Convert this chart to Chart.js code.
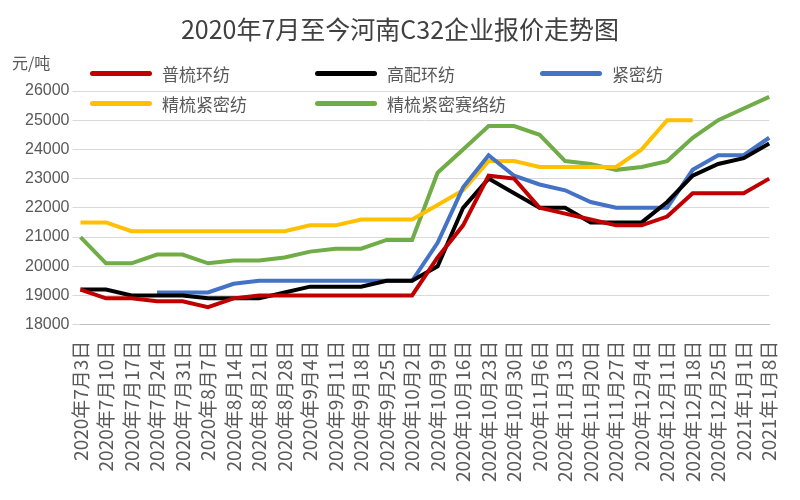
<!DOCTYPE html>
<html><head><meta charset="utf-8">
<script src="https://cdn.jsdelivr.net/npm/chart.js@4"></script>
<style>
body{margin:0;background:#fff;font-family:"Noto Sans CJK SC",sans-serif;}
#wrap{position:relative;width:800px;height:500px;}
.lg{position:absolute;font-size:17px;color:#595959;display:flex;align-items:center;white-space:nowrap}
.lg i{display:inline-block;width:62px;height:5px;margin-right:10px;border-radius:3px}
#title{position:absolute;top:10px;left:0;width:800px;text-align:center;font-size:25px;color:#404040}
#yt{position:absolute;top:50px;left:12px;font-size:16px;color:#595959}
</style></head><body>
<div id="wrap">
<canvas id="c" width="800" height="500"></canvas>
<div id="title">2020年7月至今河南C32企业报价走势图</div>
<div id="yt">元/吨</div>
<div class="lg" style="left:90px;top:61px"><i style="background:#c00000"></i>普梳环纺</div>
<div class="lg" style="left:315px;top:61px"><i style="background:#000"></i>高配环纺</div>
<div class="lg" style="left:540px;top:61px"><i style="background:#4472c4"></i>紧密纺</div>
<div class="lg" style="left:90px;top:91px"><i style="background:#ffc000"></i>精梳紧密纺</div>
<div class="lg" style="left:315px;top:91px"><i style="background:#70ad47"></i>精梳紧密赛络纺</div>
</div>
<script>
const categories=["2020年7月3日","2020年7月10日","2020年7月17日","2020年7月24日","2020年7月31日","2020年8月7日","2020年8月14日","2020年8月21日","2020年8月28日","2020年9月4日","2020年9月11日","2020年9月18日","2020年9月25日","2020年10月2日","2020年10月9日","2020年10月16日","2020年10月23日","2020年10月30日","2020年11月6日","2020年11月13日","2020年11月20日","2020年11月27日","2020年12月4日","2020年12月11日","2020年12月18日","2020年12月25日","2021年1月1日","2021年1月8日"];
const pushu=[19200,18900,18900,18800,18800,18600,18900,19000,19000,19000,19000,19000,19000,19000,20300,21400,23100,23000,22000,21800,21600,21400,21400,21700,22500,22500,22500,23000];
const gaopei=[19200,19200,19000,19000,19000,18900,18900,18900,19100,19300,19300,19300,19500,19500,20000,22000,23000,22500,22000,22000,21500,21500,21500,22200,23100,23500,23700,24200];
const jinmi=[null,null,null,19100,19100,19100,19400,19500,19500,19500,19500,19500,19500,19500,20800,22700,23800,23100,22800,22600,22200,22000,22000,22000,23300,23800,23800,24400];
const jingshu=[21500,21500,21200,21200,21200,21200,21200,21200,21200,21400,21400,21600,21600,21600,22100,22600,23600,23600,23400,23400,23400,23400,24000,25000,25000,null,null,null];
const sailuo=[21000,20100,20100,20400,20400,20100,20200,20200,20300,20500,20600,20600,20900,20900,23200,24000,24800,24800,24500,23600,23500,23300,23400,23600,24400,25000,25400,25800];
const ds=(l,d,c)=>({label:l,data:d,borderColor:c,backgroundColor:c,borderWidth:4,pointRadius:0,tension:0,spanGaps:false});
new Chart(document.getElementById('c'),{type:'line',
data:{labels:categories,datasets:[ds('普梳环纺',pushu,'#c00000'),ds('高配环纺',gaopei,'#000000'),ds('紧密纺',jinmi,'#4472c4'),ds('精梳紧密纺',jingshu,'#ffc000'),ds('精梳紧密赛络纺',sailuo,'#70ad47')]},
options:{responsive:false,animation:false,
layout:{padding:{top:91,right:18,left:22,bottom:10}},
plugins:{legend:{display:false},tooltip:{enabled:false}},
scales:{
x:{offset:false,grid:{display:false},border:{color:'#bfbfbf'},ticks:{autoSkip:false,maxRotation:90,minRotation:90,padding:8,color:'#595959',font:{size:19,family:'Noto Sans CJK SC'}}},
y:{min:18000,max:26000,ticks:{stepSize:1000,color:'#595959',callback:v=>String(v),font:{size:16,family:'Liberation Sans'}},grid:{color:'#d9d9d9'},border:{display:false}}
}}});
</script></body></html>
